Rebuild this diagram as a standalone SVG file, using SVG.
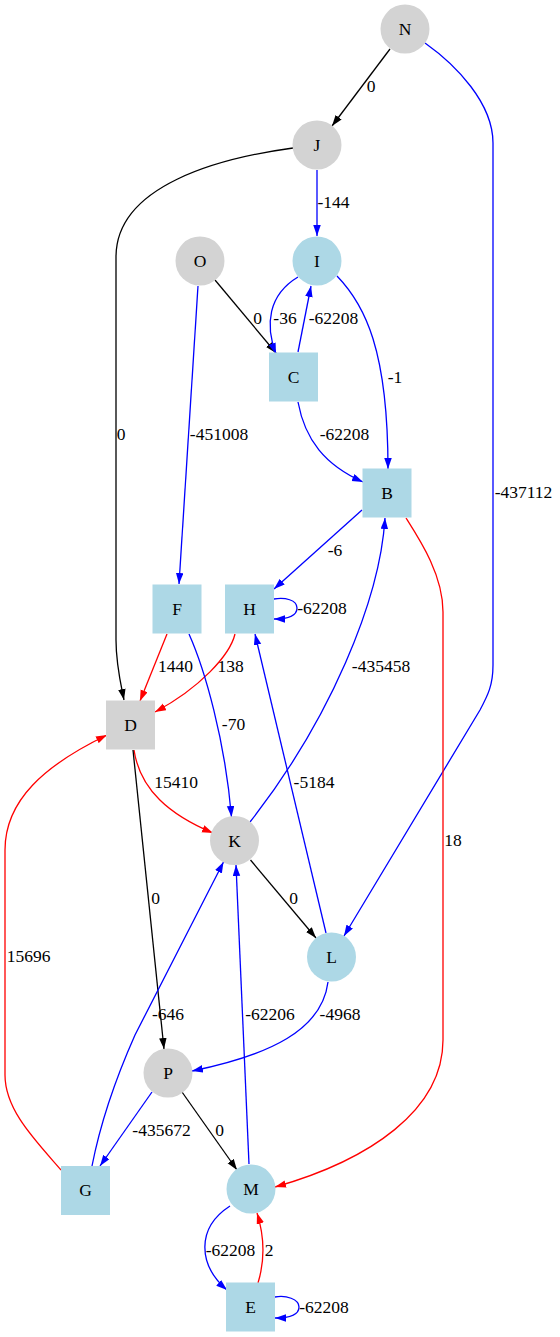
<svg xmlns="http://www.w3.org/2000/svg" width="560" height="1337" viewBox="0 0 560 1337">
<style>
.n text{font-family:"Liberation Serif","Times New Roman",serif;font-size:17.5px;text-anchor:middle;fill:#000}
.gray{fill:#d3d3d3}
.lb{fill:#add8e6}
.e path{fill:none;stroke-width:1.3}
.k{stroke:#000}
.b{stroke:#0000ff}
.r{stroke:#ff0000}
.lbl text{font-family:"Liberation Serif","Times New Roman",serif;font-size:17.5px;text-anchor:middle;fill:#000}
</style>
<defs>
<marker id="ak" markerUnits="userSpaceOnUse" markerWidth="12" markerHeight="8" refX="11" refY="3.75" orient="auto"><path d="M0,0 L11,3.75 L0,7.5 z" fill="#000"/></marker>
<marker id="ab" markerUnits="userSpaceOnUse" markerWidth="12" markerHeight="8" refX="11" refY="3.75" orient="auto"><path d="M0,0 L11,3.75 L0,7.5 z" fill="#0000ff"/></marker>
<marker id="ar" markerUnits="userSpaceOnUse" markerWidth="12" markerHeight="8" refX="11" refY="3.75" orient="auto"><path d="M0,0 L11,3.75 L0,7.5 z" fill="#ff0000"/></marker>
</defs>
<g id="edges" class="e">
<path class="k" marker-end="url(#ak)" d="M390,49 L332,126"/>
<path class="b" marker-end="url(#ab)" d="M425,43 C456,65 493,103 493,143 L493,665 C493,685 488,695 480,710 L344,936"/>
<path class="b" marker-end="url(#ab)" d="M317,170 L317,236"/>
<path class="k" marker-end="url(#ak)" d="M293,148 C220,158 116,185 116,257 L116,640 C116,665 121,685 124,700"/>
<path class="k" marker-end="url(#ak)" d="M215,280 L276,353"/>
<path class="b" marker-end="url(#ab)" d="M198,286 L179,584"/>
<path class="b" marker-end="url(#ab)" d="M298,277 C268,295 265,325 276,354"/>
<path class="b" marker-end="url(#ab)" d="M298,352 L311,286"/>
<path class="b" marker-end="url(#ab)" d="M337,276 C365,305 388,350 388,469"/>
<path class="b" marker-end="url(#ab)" d="M298,402 C305,440 325,465 363,482"/>
<path class="b" marker-end="url(#ab)" d="M362,510 L274,589"/>
<path class="r" marker-end="url(#ar)" d="M406,518 C420,540 443,575 443,612 L443,1040 C443,1110 370,1160 275,1187"/>
<path class="b" marker-end="url(#ab)" d="M274,599 C285,597 297,600 297,608 C297,616 287,619 274,619"/>
<path class="r" marker-end="url(#ar)" d="M167,634 L140,701"/>
<path class="r" marker-end="url(#ar)" d="M235,634 C230,655 200,688 155,712"/>
<path class="b" marker-end="url(#ab)" d="M189,634 C205,670 225,740 231.5,817"/>
<path class="b" marker-end="url(#ab)" d="M250,822 C330,720 380,600 385,518"/>
<path class="b" marker-end="url(#ab)" d="M326,933 L255,634"/>
<path class="r" marker-end="url(#ar)" d="M134,750 C140,790 170,815 213,833"/>
<path class="k" marker-end="url(#ak)" d="M133,750 L164,1049"/>
<path class="k" marker-end="url(#ak)" d="M250.5,860 L316,938"/>
<path class="r" marker-end="url(#ar)" d="M61,1170 C35,1140 5,1110 5,1075 L5,850 C5,800 45,765 107,735"/>
<path class="b" marker-end="url(#ab)" d="M92,1166 C100,1125 115,1080 135,1035 L223.5,862"/>
<path class="b" marker-end="url(#ab)" d="M249,1164 L236,865"/>
<path class="b" marker-end="url(#ab)" d="M328,982 C322,1030 270,1055 192,1071"/>
<path class="b" marker-end="url(#ab)" d="M152,1092 L100,1166"/>
<path class="k" marker-end="url(#ak)" d="M182,1092 L237,1170"/>
<path class="b" marker-end="url(#ab)" d="M230,1206 C196,1228 198,1265 227,1290"/>
<path class="r" marker-end="url(#ar)" d="M258,1283 C265,1260 264,1235 257,1213"/>
<path class="b" marker-end="url(#ab)" d="M275,1297 C286,1295 299,1299 299,1307 C299,1315 288,1318 275,1318"/>
</g>
<g id="edge-labels" class="lbl">
<text x="371" y="92">0</text>
<text x="333.5" y="208">-144</text>
<text x="121" y="440">0</text>
<text x="219" y="440">-451008</text>
<text x="257.5" y="324">0</text>
<text x="285" y="324">-36</text>
<text x="333.5" y="324">-62208</text>
<text x="395" y="383">-1</text>
<text x="344.5" y="440">-62208</text>
<text x="523.5" y="498">-437112</text>
<text x="335" y="556">-6</text>
<text x="322" y="614">-62208</text>
<text x="175.5" y="672">1440</text>
<text x="230.5" y="672">138</text>
<text x="381" y="672">-435458</text>
<text x="233.5" y="730">-70</text>
<text x="176" y="788">15410</text>
<text x="314" y="788">-5184</text>
<text x="453" y="846">18</text>
<text x="155.5" y="904">0</text>
<text x="293.5" y="904">0</text>
<text x="28.5" y="962">15696</text>
<text x="168" y="1020">-646</text>
<text x="270" y="1020">-62206</text>
<text x="340" y="1020">-4968</text>
<text x="161.5" y="1136">-435672</text>
<text x="219.5" y="1136">0</text>
<text x="230.5" y="1256">-62208</text>
<text x="269" y="1256">2</text>
<text x="324" y="1313">-62208</text>
</g>
<g id="N" class="n"><circle class="gray" cx="405" cy="29" r="24.5"/><text x="405" y="35">N</text></g>
<g id="J" class="n"><circle class="gray" cx="317" cy="145" r="24.5"/><text x="317" y="151">J</text></g>
<g id="O" class="n"><circle class="gray" cx="200" cy="261" r="24.5"/><text x="200" y="267">O</text></g>
<g id="I" class="n"><circle class="lb" cx="317" cy="261" r="24.5"/><text x="317" y="267">I</text></g>
<g id="C" class="n"><rect class="lb" x="269" y="352.5" width="49" height="49"/><text x="293.5" y="383">C</text></g>
<g id="B" class="n"><rect class="lb" x="362.5" y="468.5" width="49" height="49"/><text x="387" y="499">B</text></g>
<g id="F" class="n"><rect class="lb" x="152.5" y="584.5" width="49" height="49"/><text x="177" y="615">F</text></g>
<g id="H" class="n"><rect class="lb" x="225" y="584.5" width="49" height="49"/><text x="249.5" y="615">H</text></g>
<g id="D" class="n"><rect class="gray" x="106" y="700.5" width="49" height="49"/><text x="130.5" y="731">D</text></g>
<g id="K" class="n"><circle class="gray" cx="234.5" cy="840.5" r="24.5"/><text x="234.5" y="847">K</text></g>
<g id="L" class="n"><circle class="lb" cx="331.5" cy="957" r="24.5"/><text x="331.5" y="963">L</text></g>
<g id="P" class="n"><circle class="gray" cx="168" cy="1073" r="24.5"/><text x="168" y="1079">P</text></g>
<g id="G" class="n"><rect class="lb" x="61" y="1166" width="49" height="49"/><text x="85.5" y="1196">G</text></g>
<g id="M" class="n"><circle class="lb" cx="251" cy="1189" r="24.5"/><text x="251" y="1195">M</text></g>
<g id="E" class="n"><rect class="lb" x="226" y="1282.5" width="49" height="49"/><text x="250.5" y="1313">E</text></g>
</svg>
